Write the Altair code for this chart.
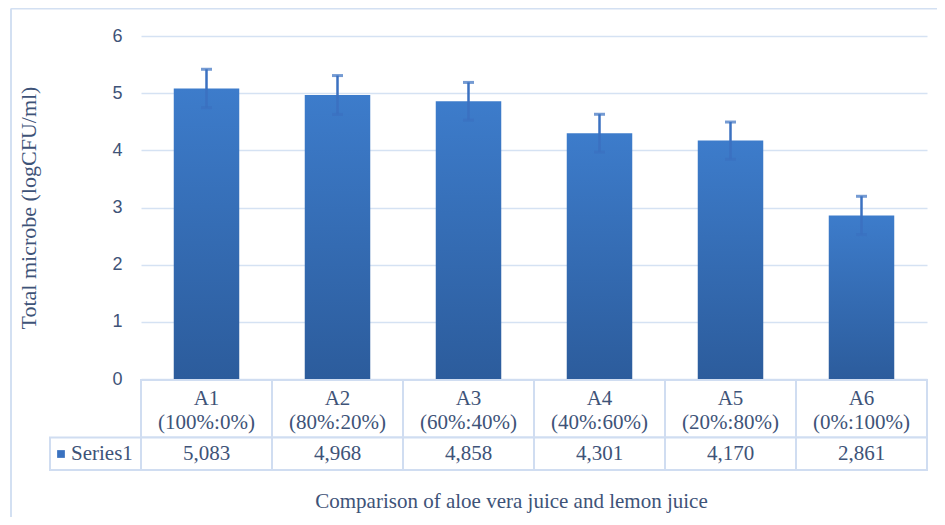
import altair as alt
import pandas as pd

categories = ["A1", "A2", "A3", "A4", "A5", "A6"]
ratios = ["(100%:0%)", "(80%:20%)", "(60%:40%)", "(40%:60%)", "(20%:80%)", "(0%:100%)"]
values = [5.083, 4.968, 4.858, 4.301, 4.170, 2.861]
errors = [0.335, 0.34, 0.33, 0.33, 0.325, 0.335]
series_name = "Series1"
y_title = "Total microbe (logCFU/ml)"
x_title = "Comparison of aloe vera juice and lemon juice"
y_ticks = [0, 1, 2, 3, 4, 5, 6]

df = pd.DataFrame({"cat": categories, "ratio": ratios, "value": values, "err": errors})
df["lower"] = df["value"] - df["err"]
df["upper"] = df["value"] + df["err"]
df["header"] = df["cat"] + "\n" + df["ratio"]
df["label"] = [f"{v:.3f}".replace(".", ",") for v in values]

TEXT = "#3e5378"
GRID = "#d5e2f3"
TABLE = "#d0ddf1"
EB = "#3b71c1"
SERIF = "Liberation Serif"
SANS = "Liberation Sans"
FS = 21

xs = alt.X(
    "cat:N", sort=categories,
    scale=alt.Scale(paddingInner=0.5, paddingOuter=0.25),
    axis=alt.Axis(title=x_title, labels=False, ticks=False, domain=False, grid=False,
                  titleFont=SERIF, titleFontSize=FS, titleFontWeight="normal", titleColor=TEXT,
                  titleX=370, titleY=111, titleAlign="center", titleBaseline="top"),
)
yaxis = alt.Axis(values=y_ticks, grid=True, gridColor=GRID, gridWidth=1.5, domain=False, ticks=False,
                 labelFont=SANS, labelFontSize=18, labelColor=TEXT, labelPadding=19,
                 title=y_title, titleFont=SERIF, titleFontSize=22, titleFontWeight="normal",
                 titleColor=TEXT, titleX=-113, titleY=171.5, titleAngle=-90,
                 titleAlign="center", titleBaseline="middle")
yscale = alt.Scale(domain=[0, 6], nice=False)

grad = alt.LinearGradient(
    gradient="linear",
    stops=[alt.GradientStop(color="#3d7ccb", offset=0), alt.GradientStop(color="#2c5c9c", offset=1)],
    x1=0, x2=0, y1=0, y2=1,
)

base = alt.Chart(df)
bars = base.mark_bar(color=grad).encode(
    x=xs, y=alt.Y("value:Q", scale=yscale, axis=yaxis, title=y_title))
rules = base.mark_rule(color=EB, strokeWidth=2.5).encode(
    x=xs, y=alt.Y("lower:Q", scale=yscale, axis=yaxis, title=y_title), y2="upper:Q")
tick_hi = base.mark_tick(color=EB, thickness=3, size=11).encode(
    x=xs, y=alt.Y("upper:Q", scale=yscale, axis=yaxis, title=y_title))
tick_lo = base.mark_tick(color=EB, thickness=3, size=11).encode(
    x=xs, y=alt.Y("lower:Q", scale=yscale, axis=yaxis, title=y_title))
bar_layer = alt.layer(bars, rules, tick_hi, tick_lo)

xt = alt.X("cat:N", sort=categories, scale=alt.Scale(paddingInner=0, paddingOuter=0), axis=None)
head_cells = base.mark_rect(fill="white", stroke=TABLE, strokeWidth=2).encode(
    x=xt, y=alt.value(344), y2=alt.value(401.5))
val_cells = base.mark_rect(fill="white", stroke=TABLE, strokeWidth=2).encode(
    x=xt, y=alt.value(401.5), y2=alt.value(434))
head_text = base.mark_text(font=SERIF, fontSize=FS, color=TEXT, lineBreak="\n", lineHeight=24,
                           baseline="middle").encode(x=xt, y=alt.value(363), text="header:N")
val_text = base.mark_text(font=SERIF, fontSize=FS, color=TEXT, baseline="middle").encode(
    x=xt, y=alt.value(418), text="label:N")
table_layer = alt.layer(head_cells, val_cells, head_text, val_text)

sdf = pd.DataFrame({"s": [series_name]})
sbase = alt.Chart(sdf)
s_cell = sbase.mark_rect(fill="white", stroke=TABLE, strokeWidth=2).encode(
    x=alt.value(-91), x2=alt.value(0), y=alt.value(401.5), y2=alt.value(434))
s_square = sbase.mark_square(color="#3a72c0", size=60, opacity=1).encode(
    x=alt.value(-80), y=alt.value(418))
s_text = sbase.mark_text(font=SERIF, fontSize=FS, color=TEXT, align="left", baseline="middle").encode(
    x=alt.value(-70), y=alt.value(418), text="s:N")

border_top = sbase.mark_rule(color="#d3e0f2", strokeWidth=2).encode(
    x=alt.value(-130), x2=alt.value(800), y=alt.value(-27.5))
border_left = sbase.mark_rule(color="#d3e0f2", strokeWidth=2).encode(
    x=alt.value(-130), y=alt.value(-27.5), y2=alt.value(490))

chart = alt.layer(
    bar_layer, table_layer, s_cell, s_square, s_text, border_top, border_left
).resolve_scale(x="independent").properties(
    width=786, height=343,
    autosize=alt.AutoSizeParams(type="none"),
    padding={"left": 133, "top": 28, "right": 10, "bottom": 138},
).configure_view(stroke=None)

chart.save("out.html", embed_options={"renderer": "svg", "actions": False})
